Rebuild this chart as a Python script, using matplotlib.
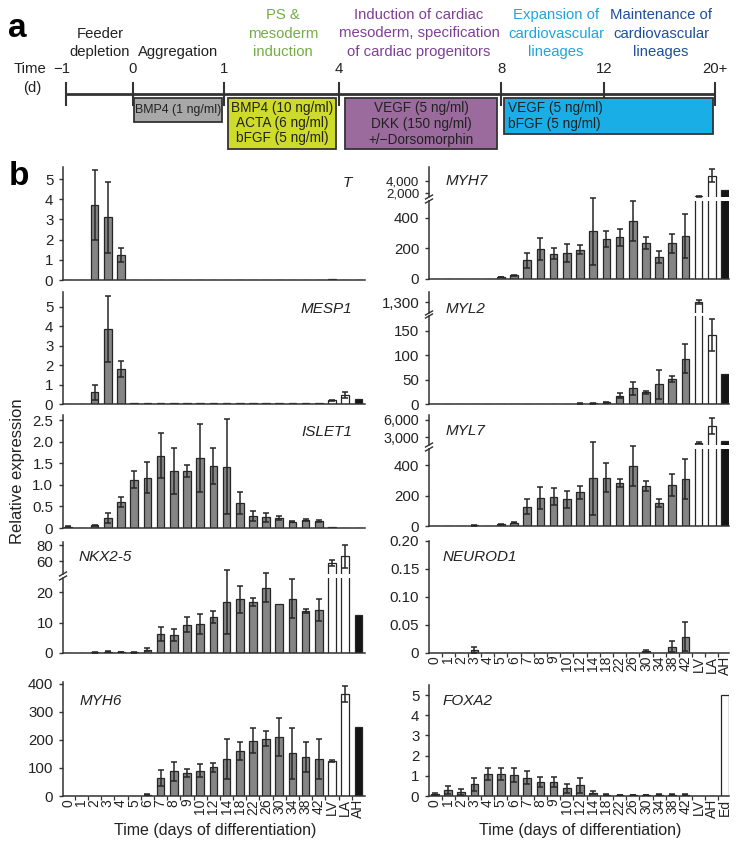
import matplotlib
matplotlib.use('Agg')
import matplotlib.pyplot as plt
from matplotlib.patches import Rectangle
import numpy as np

plt.rcParams['font.family'] = ['Liberation Sans', 'DejaVu Sans']

# ---------------- data ----------------
cats = ['0', '1', '2', '3', '4', '5', '6', '7', '8', '9', '10', '12', '14', '18',
        '22', '26', '30', '34', '38', '42', 'LV', 'LA', 'AH']
cats_foxa2 = cats[:20] + ['LV', 'AH', 'Ed']
kinds = ['day'] * 20 + ['tissue', 'tissue', 'heart']
kinds_foxa2 = ['day'] * 20 + ['tissue', 'tissue', 'tissue']

T_val = [0.02, 0.02, 3.72, 3.11, 1.22, 0.02, 0.01, 0, 0, 0, 0, 0, 0, 0, 0, 0, 0, 0, 0, 0, 0.04, 0, 0]
T_err = [0, 0, 1.74, 1.75, 0.35, 0, 0, 0, 0, 0, 0, 0, 0, 0, 0, 0, 0, 0, 0, 0, 0, 0, 0]

MESP1_val = [0, 0, 0.6, 3.88, 1.82, 0.04, 0.05, 0.04, 0.05, 0.05, 0.06, 0.06, 0.05, 0.05, 0.06,
             0.07, 0.07, 0.07, 0.07, 0.05, 0.19, 0.48, 0.26]
MESP1_err = [0, 0, 0.38, 1.7, 0.42, 0, 0, 0, 0, 0, 0, 0, 0, 0, 0, 0, 0, 0, 0, 0, 0.02, 0.15, 0]

ISLET1_val = [0.03, 0.01, 0.06, 0.23, 0.6, 1.12, 1.17, 1.68, 1.32, 1.32, 1.63, 1.44, 1.42, 0.58,
              0.28, 0.25, 0.23, 0.15, 0.18, 0.16, 0.02, 0.01, 0]
ISLET1_err = [0.01, 0, 0.01, 0.12, 0.11, 0.2, 0.35, 0.53, 0.53, 0.13, 0.79, 0.41, 1.1, 0.25,
              0.12, 0.1, 0.05, 0.02, 0.02, 0.02, 0, 0, 0]

NKX25_val = [0, 0, 0.2, 0.4, 0.35, 0.2, 1.1, 6.3, 6.0, 9.3, 9.4, 11.8, 16.7, 17.6, 16.7, 21.4,
             16.2, 17.8, 13.8, 14.2, 57.9, 66, 12.35]
NKX25_err = [0, 0, 0.1, 0.1, 0.1, 0.1, 0.6, 2.2, 2.0, 2.5, 3.3, 1.9, 10.5, 4.4, 1.4, 4.8,
             0, 6.4, 0.7, 3.6, 3.8, 14, 0]

MYH6_val = [0, 0, 0, 0, 0, 0, 5, 65, 89, 81, 90, 102, 132, 161, 198, 205, 210, 152, 140, 132,
            125, 364, 248]
MYH6_err = [0, 0, 0, 0, 0, 0, 1, 28, 34, 14, 23, 17, 70, 31, 46, 28, 67, 90, 53, 73, 3, 29, 0]

MYH7_val = [0, 0, 0, 0, 0, 13, 24, 122, 197, 166, 170, 192, 312, 264, 273, 382, 236, 142, 234,
            282, 1450, 4900, 2450]
MYH7_err = [0, 0, 0, 0, 0, 2, 4, 50, 72, 35, 59, 28, 219, 53, 57, 131, 39, 39, 61, 142, 60,
            1100, 0]

MYL2_val = [0, 0, 0, 0, 0, 0, 0, 0, 0, 0, 0, 1, 2, 4, 17, 32, 24, 40, 52, 93, 1300, 141, 61]
MYL2_err = [0, 0, 0, 0, 0, 0, 0, 0, 0, 0, 0, 0.5, 1, 1, 5, 14, 3, 29, 6, 29, 12, 33, 0]

MYL7_val = [0, 0, 0, 4, 1, 11, 22, 127, 186, 192, 175, 221, 313, 317, 282, 393, 262, 149, 269,
            306, 2000, 4940, 2300]
MYL7_err = [0, 0, 0, 2, 0, 2, 3, 48, 72, 55, 57, 41, 240, 94, 24, 132, 35, 26, 72, 131, 150,
            1400, 0]

NEUROD1_val = [0, 0.0005, 0.0005, 0.005, 0.0005, 0.0003, 0.0003, 0.0005, 0.0003, 0.0003, 0.0003,
               0.0003, 0.0005, 0.0003, 0.0003, 0.0003, 0.003, 0.0005, 0.011, 0.029, 0, 0, 0]
NEUROD1_err = [0, 0, 0, 0.005, 0, 0, 0, 0, 0, 0, 0, 0, 0, 0, 0, 0, 0.002, 0, 0.01, 0.026, 0, 0, 0]

FOXA2_val = [0.1, 0.3, 0.18, 0.59, 1.09, 1.1, 1.02, 0.91, 0.68, 0.71, 0.38, 0.53, 0.17, 0.07,
             0.05, 0.05, 0.05, 0.07, 0.07, 0.07, 0, 0, 5.0]
FOXA2_err = [0.06, 0.21, 0.15, 0.32, 0.31, 0.3, 0.35, 0.33, 0.24, 0.25, 0.23, 0.38, 0.08, 0.02,
             0.01, 0.01, 0.01, 0.02, 0.02, 0.02, 0, 0, 0]

# timeline (panel a)
time_labels = ['\u22121', '0', '1', '4', '8', '12', '20+']
stage_titles = [['Feeder', 'depletion'], ['Aggregation'], ['PS &', 'mesoderm', 'induction'],
                ['Induction of cardiac', 'mesoderm, specification', 'of cardiac progenitors'],
                ['Expansion of', 'cardiovascular', 'lineages'],
                ['Maintenance of', 'cardiovascular', 'lineages']]
box_texts = [['BMP4 (1 ng/ml)'],
             ['BMP4 (10 ng/ml)', 'ACTA (6 ng/ml)', 'bFGF (5 ng/ml)'],
             ['VEGF (5 ng/ml)', 'DKK (150 ng/ml)', '+/\u2212Dorsomorphin'],
             ['VEGF (5 ng/ml)', 'bFGF (5 ng/ml)']]

# ---------------- style / layout ----------------
W, H = 739, 849
fig = plt.figure(figsize=(W / 100, H / 100), dpi=100)
EDGE = '#262626'
FILL = {'day': '#858585', 'tissue': '#ffffff', 'heart': '#141414'}
BW = 0.58


def fx(x):
    return x / W


def fy(y):
    return 1 - y / H


def add_ax(l, t, r, b):
    return fig.add_axes([l / W, 1 - b / H, (r - l) / W, (b - t) / H])


# ---------- panel a ----------
axa = fig.add_axes([0, 1 - 160 / H, 1, 160 / H])
axa.set_xlim(0, W)
axa.set_ylim(160, 0)
axa.axis('off')

tick_x = [66, 133, 224, 339, 501, 604, 715]
axa.plot([tick_x[0], tick_x[-1]], [94, 94], color='#333333', lw=2, solid_capstyle='butt', zorder=1)
for x, lab in zip(tick_x, time_labels):
    axa.plot([x, x], [83, 105], color='#333333', lw=1.5, zorder=1)
    axa.text(x if lab != time_labels[0] else x - 4, 69, lab, ha='center', va='center', fontsize=10.7,
             color='#222222')
axa.text(30, 69, 'Time', ha='center', va='center', fontsize=10.7, color='#222222')
axa.text(32, 88, '(d)', ha='center', va='center', fontsize=10.7, color='#222222')

title_x = [100, 178, 283, 419, 556, 661]
title_c = ['#222222', '#222222', '#72ad44', '#7e3f97', '#1ea5df', '#1f4f9c']
for lines, x, c in zip(stage_titles, title_x, title_c):
    n = len(lines)
    ys = [52 - 18.5 * (n - 1 - i) for i in range(n)]
    for ln, y in zip(lines, ys):
        axa.text(x, y, ln, ha='center', va='center', fontsize=10.7, color=c)

boxes = [(134, 98, 222, 122, '#a8a8a8'), (228, 98, 336, 149, '#cfdb2a'),
         (345, 98, 497, 149, '#9b6b9d'), (504, 98, 713, 134, '#1aaee6')]
for (x0, y0, x1, y1, c) in boxes:
    axa.add_patch(Rectangle((x0, y0), x1 - x0, y1 - y0, facecolor=c, edgecolor='#333333',
                            lw=1.3, zorder=2))
axa.text(178, 110, box_texts[0][0], ha='center', va='center', fontsize=8.9, color='#222222', zorder=3)
for ln, y in zip(box_texts[1], [108, 123, 138]):
    axa.text(282, y, ln, ha='center', va='center', fontsize=9.8, color='#222222', zorder=3)
for ln, y in zip(box_texts[2], [108, 124, 140]):
    axa.text(421, y, ln, ha='center', va='center', fontsize=9.8, color='#222222', zorder=3)
for ln, y in zip(box_texts[3], [108, 124]):
    axa.text(508, y, ln, ha='left', va='center', fontsize=9.8, color='#222222', zorder=3)

fig.text(fx(8), fy(37), 'a', fontsize=24, fontweight='bold', ha='left', va='baseline')
fig.text(fx(9), fy(185), 'b', fontsize=24, fontweight='bold', ha='left', va='baseline')


# ---------- panel b ----------
def base_style(ax, xlim, bottom=True):
    ax.set_xlim(*xlim)
    ax.spines['top'].set_visible(False)
    ax.spines['right'].set_visible(False)
    ax.spines['bottom'].set_visible(bottom)
    for s in ['left', 'bottom']:
        ax.spines[s].set_linewidth(1.1)
        ax.spines[s].set_color('#333333')
    ax.patch.set_alpha(0)
    ax.tick_params(axis='y', direction='out', length=3, width=1, pad=4, labelsize=10.8,
                   colors='#333333', labelcolor='#222222')
    ax.set_xticks([])


def draw(ax, vals, errs, knds, ylim, keep):
    x = np.arange(len(vals))
    v = np.array(vals, float)
    e = np.array(errs, float)
    ax.bar(x, v, width=BW, color=[FILL[k] for k in knds], edgecolor=EDGE, linewidth=0.9, zorder=2)
    sel = np.array([i for i in range(len(v)) if e[i] > 0 and keep(v[i])], int)
    if len(sel):
        eb = ax.errorbar(x[sel], v[sel], yerr=e[sel], fmt='none', ecolor=EDGE, elinewidth=1.1,
                         capsize=2.3, capthick=1.1, zorder=3)
        for art in eb.get_children():
            art.set_clip_on(False)
    ax.set_ylim(*ylim)


def xlabels(ax, labels):
    ax.set_xticks(np.arange(len(labels)))
    ax.set_xticklabels(labels, rotation=90, fontsize=10, color='#222222')
    ax.set_xticks(np.arange(len(labels) - 1) + 0.5, minor=True)
    ax.tick_params(axis='x', which='major', length=0, pad=2)
    ax.tick_params(axis='x', which='minor', length=3, width=0.9, direction='out', colors='#333333')


def break_marks(xpix, ytop, ybot):
    for y in (ytop, ybot):
        fig.add_artist(plt.Line2D([fx(xpix - 3.5), fx(xpix + 3.5)], [fy(y + 2), fy(y - 2)],
                                  color='#333333', lw=1.0))


XL = (-0.4, 22.5)
XR = (-0.45, 22.3)
LL, LR = 63, 365
RL, RR = 429, 729


def simple(l, r, t, b, xlim, vals, errs, knds, ylim, yt, ytl=None):
    ax = add_ax(l, t, r, b)
    base_style(ax, xlim)
    draw(ax, vals, errs, knds, ylim, lambda v: True)
    ax.set_yticks(yt)
    ax.set_yticklabels(ytl if ytl else [str(t_) for t_ in yt])
    return ax


def broken(l, r, t_up, b_up, t_lo, b_lo, xlim, vals, errs, knds, ylo, yup, yt_lo, yt_up, ytl_up,
           up_fs=10.8):
    lo = add_ax(l, t_lo, r, b_lo)
    base_style(lo, xlim)
    draw(lo, vals, errs, knds, ylo, lambda v: v < ylo[1])
    lo.set_yticks(yt_lo)
    lo.set_yticklabels([str(t_) for t_ in yt_lo])
    up = add_ax(l, t_up, r, b_up)
    base_style(up, xlim, bottom=False)
    draw(up, vals, errs, knds, yup, lambda v: v >= yup[0])
    up.set_yticks(yt_up)
    up.set_yticklabels(ytl_up, fontsize=up_fs)
    break_marks(l, b_up, t_lo)
    return lo, up


simple(LL, LR, 167, 280, XL, T_val, T_err, kinds, (0, 5.6), [0, 1, 2, 3, 4, 5])
simple(LL, LR, 292, 404, XL, MESP1_val, MESP1_err, kinds, (0, 5.77), [0, 1, 2, 3, 4, 5])
simple(LL, LR, 415, 528, XL, ISLET1_val, ISLET1_err, kinds, (0, 2.62),
       [0, 0.5, 1.0, 1.5, 2.0, 2.5], ['0', '0.5', '1.0', '1.5', '2.0', '2.5'])
broken(LL, LR, 542, 574, 578, 653, XL, NKX25_val, NKX25_err, kinds, (0, 24.6), (44, 84),
       [0, 10, 20], [60, 80], ['60', '80'])
ax_myh6 = simple(LL, LR, 682, 796, XL, MYH6_val, MYH6_err, kinds, (0, 407), [0, 100, 200, 300, 400])
xlabels(ax_myh6, cats)

broken(RL, RR, 167, 197, 201, 279, XR, MYH7_val, MYH7_err, kinds, (0, 511), (1333, 6333),
       [0, 200, 400], [2000, 4000], ['2,000', '4,000'], up_fs=9.6)
broken(RL, RR, 292, 313, 316, 404, XR, MYL2_val, MYL2_err, kinds, (0, 180), (1245, 1350),
       [0, 50, 100, 150], [1300], ['1,300'])
broken(RL, RR, 415, 445, 449, 526, XR, MYL7_val, MYL7_err, kinds, (0, 505), (1590, 6880),
       [0, 200, 400], [3000, 6000], ['3,000', '6,000'], up_fs=10.4)
ax_neu = simple(RL, RR, 541, 653, XR, NEUROD1_val, NEUROD1_err, kinds, (0, 0.2),
                [0, 0.05, 0.1, 0.15, 0.2], ['0', '0.05', '0.10', '0.15', '0.20'])
xlabels(ax_neu, cats)
ax_fox = simple(RL, RR, 685, 796, XR, FOXA2_val, FOXA2_err, kinds_foxa2, (0, 5.5), [0, 1, 2, 3, 4, 5])
xlabels(ax_fox, cats_foxa2)

# gene names
genes = [('T', 352, 183, 'right'), ('MESP1', 352, 309, 'right'), ('ISLET1', 352, 432, 'right'),
         ('NKX2-5', 79, 557, 'left'), ('MYH6', 80, 701, 'left'), ('MYH7', 446, 181, 'left'),
         ('MYL2', 446, 309, 'left'), ('MYL7', 446, 431, 'left'), ('NEUROD1', 443, 557, 'left'),
         ('FOXA2', 443, 701, 'left')]
for name, x, y, ha in genes:
    fig.text(fx(x), fy(y), name, style='italic', fontsize=11, ha=ha, va='center', color='#222222')

fig.text(fx(18), fy(471), 'Relative expression', rotation=90, ha='center', va='center',
         fontsize=12, color='#222222')
fig.text(fx(215), fy(830), 'Time (days of differentiation)', ha='center', va='center',
         fontsize=11.5, color='#222222')
fig.text(fx(580), fy(831), 'Time (days of differentiation)', ha='center', va='center',
         fontsize=11.5, color='#222222')

fig.savefig('out.png', dpi=100)
